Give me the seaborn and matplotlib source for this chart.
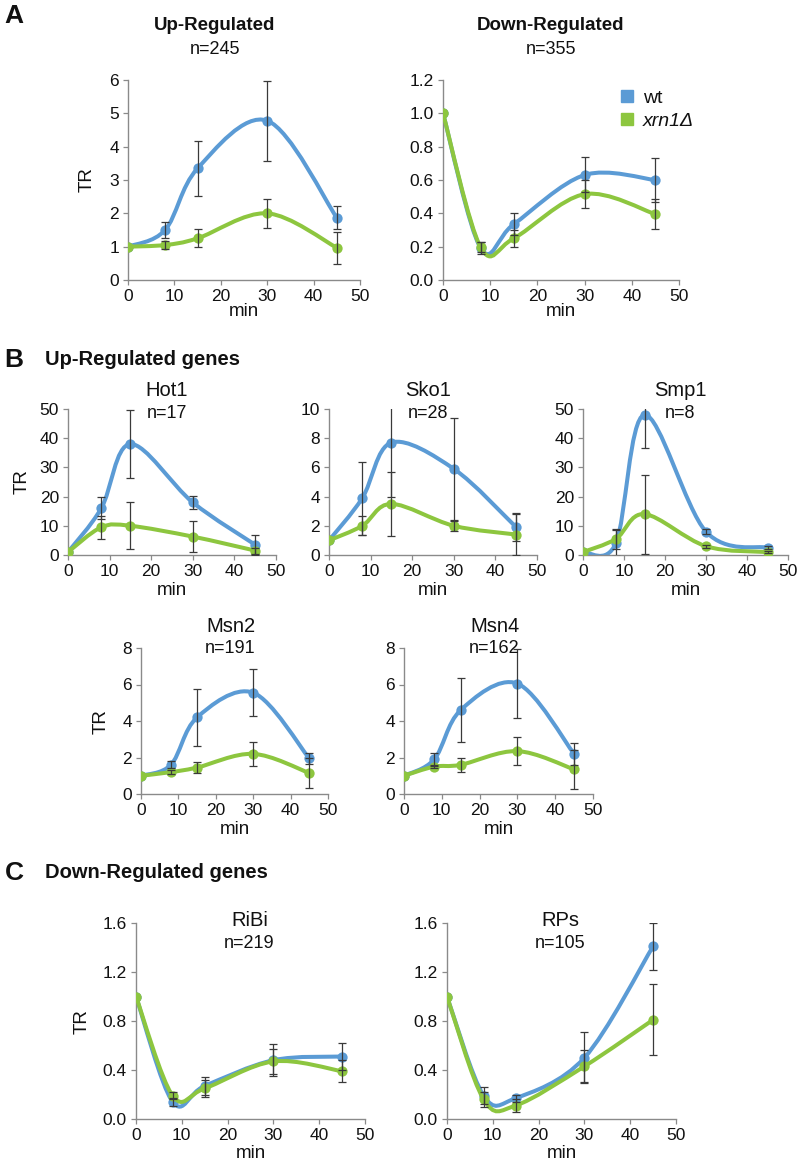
import matplotlib
matplotlib.use("Agg")
import matplotlib.pyplot as plt
from matplotlib.path import Path
from matplotlib.patches import PathPatch
from matplotlib.lines import Line2D
import numpy as np
import pandas as pd
import seaborn as sns

sns.set_style("ticks")
plt.rcParams['font.family'] = ['Liberation Sans', 'DejaVu Sans']

# time points (min)
minutes = [0, 8, 15, 30, 45]

# Panel A
up_wt = [1.0, 1.5, 3.35, 4.78, 1.87]
up_wt_err = [0, 0.23, 0.82, 1.2, 0.35]
up_xrn = [1.0, 1.05, 1.25, 2.0, 0.97]
up_xrn_err = [0, 0.13, 0.27, 0.44, 0.48]

down_wt = [1.0, 0.19, 0.335, 0.63, 0.60]
down_wt_err = [0, 0.035, 0.065, 0.105, 0.13]
down_xrn = [1.0, 0.195, 0.25, 0.515, 0.395]
down_xrn_err = [0, 0.03, 0.05, 0.085, 0.09]

# Panel B
hot1_wt = [1, 16, 38, 18, 3.5]
hot1_wt_err = [0, 3.7, 11.5, 2.3, 3.5]
hot1_xrn = [1, 9.5, 10, 6.3, 1.5]
hot1_xrn_err = [0, 4.0, 8.0, 5.3, 1.0]

sko1_wt = [1, 3.9, 7.7, 5.9, 1.9]
sko1_wt_err = [0, 2.5, 3.7, 3.5, 0.95]
sko1_xrn = [1, 2.0, 3.5, 2.0, 1.4]
sko1_xrn_err = [0, 0.65, 2.2, 0.35, 1.4]

smp1_wt = [1, 4, 48, 8, 2.5]
smp1_wt_err = [0, 4.5, 11.3, 0.8, 0.5]
smp1_xrn = [1, 5.5, 14, 3, 1]
smp1_xrn_err = [0, 3.5, 13.5, 0.5, 0.3]

msn2_wt = [1.0, 1.6, 4.2, 5.55, 1.95]
msn2_wt_err = [0, 0.2, 1.55, 1.3, 0.3]
msn2_xrn = [1.0, 1.2, 1.45, 2.2, 1.15]
msn2_xrn_err = [0, 0.1, 0.3, 0.67, 0.8]

msn4_wt = [1.0, 1.9, 4.6, 6.05, 2.2]
msn4_wt_err = [0, 0.35, 1.75, 1.9, 0.6]
msn4_xrn = [1.0, 1.5, 1.6, 2.35, 1.35]
msn4_xrn_err = [0, 0.1, 0.4, 0.75, 1.05]

# Panel C
ribi_wt = [1.0, 0.14, 0.27, 0.48, 0.51]
ribi_wt_err = [0, 0.03, 0.07, 0.13, 0.11]
ribi_xrn = [1.0, 0.19, 0.25, 0.47, 0.39]
ribi_xrn_err = [0, 0.03, 0.07, 0.1, 0.09]

rps_wt = [1.0, 0.19, 0.17, 0.50, 1.41]
rps_wt_err = [0, 0.07, 0.03, 0.21, 0.19]
rps_xrn = [1.0, 0.16, 0.11, 0.43, 0.81]
rps_xrn_err = [0, 0.06, 0.05, 0.13, 0.29]

BLUE = '#5B9BD5'
GREEN = '#8DC63F'
AXCOL = '#8a8a8a'
TXT = '#111111'

W, H = 800, 1163
fig = plt.figure(figsize=(W / 100, H / 100), dpi=100)


def px_axes(x0, x1, ytop, ybot):
    return fig.add_axes([x0 / W, 1 - ybot / H, (x1 - x0) / W, (ybot - ytop) / H])


def smooth_path(x, y):
    # Excel-style smoothed line as cubic Bezier segments (Catmull-Rom control points)
    pts = np.column_stack([x, y]).astype(float)
    n = len(pts)
    verts = [pts[0]]
    codes = [Path.MOVETO]
    for i in range(n - 1):
        p0 = pts[i - 1] if i > 0 else pts[i]
        p1 = pts[i]
        p2 = pts[i + 1]
        p3 = pts[i + 2] if i + 2 < n else pts[i + 1]
        verts += [p1 + (p2 - p0) / 6, p2 - (p3 - p1) / 6, p2]
        codes += [Path.CURVE4] * 3
    return Path(verts, codes)


def panel(ax, wt, wt_err, xrn, xrn_err, ylim, yticks, yfmt):
    for vals, errs, col, z in [(wt, wt_err, BLUE, 2), (xrn, xrn_err, GREEN, 3)]:
        ax.add_patch(PathPatch(smooth_path(minutes, vals), fill=False, edgecolor=col,
                               lw=2.9, zorder=z, capstyle='round'))
        df = pd.DataFrame({'min': minutes, 'TR': vals})
        sns.scatterplot(data=df, x='min', y='TR', ax=ax, color=col, s=55,
                        edgecolor=col, linewidth=0, zorder=z + 0.5, legend=False)
        ax.errorbar(minutes[1:], vals[1:], yerr=errs[1:], fmt='none', ecolor='#3a3a3a',
                    elinewidth=0.9, capsize=3, capthick=0.9, zorder=5)
    ax.set_xlim(0, 50)
    ax.set_ylim(*ylim)
    ax.set_xticks([0, 10, 20, 30, 40, 50])
    ax.set_yticks(yticks)
    ax.set_yticklabels([yfmt.format(v) for v in yticks])
    ax.set_xlabel('')
    ax.set_ylabel('')
    sns.despine(ax=ax)
    for s in ['left', 'bottom']:
        ax.spines[s].set_color(AXCOL)
        ax.spines[s].set_linewidth(1.0)
    ax.tick_params(length=3.5, width=0.9, color=AXCOL, labelsize=12.5,
                   labelcolor=TXT, pad=3)
    ax.patch.set_alpha(0)


def ftext(x, y, s, **kw):
    fig.text(x / W, 1 - y / H, s, color=TXT, **kw)


# ---------- Panel A ----------
axA1 = px_axes(128, 360, 80, 280)
panel(axA1, up_wt, up_wt_err, up_xrn, up_xrn_err, (0, 6), [0, 1, 2, 3, 4, 5, 6], '{:.0f}')
axA2 = px_axes(443, 679, 80, 280)
panel(axA2, down_wt, down_wt_err, down_xrn, down_xrn_err, (0, 1.2),
      [0, 0.2, 0.4, 0.6, 0.8, 1.0, 1.2], '{:.1f}')

ftext(14, 16, 'A', fontsize=19, fontweight='bold', ha='center', va='center')
ftext(215, 26, 'Up-Regulated', fontsize=13.5, fontweight='bold', ha='center', va='center')
ftext(215, 49, 'n=245', fontsize=13, ha='center', va='center')
ftext(551, 26, 'Down-Regulated', fontsize=13.5, fontweight='bold', ha='center', va='center')
ftext(551, 49, 'n=355', fontsize=13, ha='center', va='center')
ftext(87, 180, 'TR', fontsize=13.5, rotation=90, ha='center', va='center')
ftext(244, 311, 'min', fontsize=13.5, ha='center', va='center')
ftext(561, 311, 'min', fontsize=13.5, ha='center', va='center')

handles = [Line2D([0], [0], marker='s', ls='none', color=BLUE, markersize=8),
           Line2D([0], [0], marker='s', ls='none', color=GREEN, markersize=8)]
leg = axA2.legend(handles, ['wt', 'xrn1Δ'], loc='upper left',
                  bbox_to_anchor=((600 - 443) / 236, 1.04), frameon=False,
                  fontsize=14, handletextpad=0.3, labelspacing=0.25, handlelength=1.0)
leg.get_texts()[1].set_fontstyle('italic')
for t in leg.get_texts():
    t.set_color(TXT)

# ---------- Panel B ----------
ftext(14, 360, 'B', fontsize=19, fontweight='bold', ha='center', va='center')
ftext(45, 360, 'Up-Regulated genes', fontsize=14.5, fontweight='bold', ha='left', va='center')

row1 = [
    ('Hot1', 'n=17', 68, 276, hot1_wt, hot1_wt_err, hot1_xrn, hot1_xrn_err, (0, 50), [0, 10, 20, 30, 40, 50]),
    ('Sko1', 'n=28', 329, 537, sko1_wt, sko1_wt_err, sko1_xrn, sko1_xrn_err, (0, 10), [0, 2, 4, 6, 8, 10]),
    ('Smp1', 'n=8', 583, 788, smp1_wt, smp1_wt_err, smp1_xrn, smp1_xrn_err, (0, 50), [0, 10, 20, 30, 40, 50]),
]
for name, n, x0, x1, wt, we, xr, xe, yl, yt in row1:
    ax = px_axes(x0, x1, 409, 555)
    panel(ax, wt, we, xr, xe, yl, yt, '{:.0f}')
    cx = (x0 + x1) / 2 - 5
    ftext(cx, 391, name, fontsize=14.5, ha='center', va='center')
    ftext(cx, 413, n, fontsize=13, ha='center', va='center')
    ftext((x0 + x1) / 2, 591, 'min', fontsize=13.5, ha='center', va='center')
ftext(22, 482, 'TR', fontsize=13.5, rotation=90, ha='center', va='center')

row2 = [
    ('Msn2', 'n=191', 141, 328, msn2_wt, msn2_wt_err, msn2_xrn, msn2_xrn_err),
    ('Msn4', 'n=162', 404, 593, msn4_wt, msn4_wt_err, msn4_xrn, msn4_xrn_err),
]
for name, n, x0, x1, wt, we, xr, xe in row2:
    ax = px_axes(x0, x1, 648, 794)
    panel(ax, wt, we, xr, xe, (0, 8), [0, 2, 4, 6, 8], '{:.0f}')
    cx = (x0 + x1) / 2 - 4
    ftext(cx, 626, name, fontsize=14.5, ha='center', va='center')
    ftext(cx, 649, n, fontsize=13, ha='center', va='center')
    ftext((x0 + x1) / 2, 830, 'min', fontsize=13.5, ha='center', va='center')
ftext(101, 722, 'TR', fontsize=13.5, rotation=90, ha='center', va='center')

# ---------- Panel C ----------
ftext(14, 873, 'C', fontsize=19, fontweight='bold', ha='center', va='center')
ftext(45, 873, 'Down-Regulated genes', fontsize=14.5, fontweight='bold', ha='left', va='center')

row3 = [
    ('RiBi', 'n=219', 136, 365, ribi_wt, ribi_wt_err, ribi_xrn, ribi_xrn_err),
    ('RPs', 'n=105', 447, 676, rps_wt, rps_wt_err, rps_xrn, rps_xrn_err),
]
for name, n, x0, x1, wt, we, xr, xe in row3:
    ax = px_axes(x0, x1, 923, 1119)
    panel(ax, wt, we, xr, xe, (0, 1.6), [0, 0.4, 0.8, 1.2, 1.6], '{:.1f}')
    cx = (x0 + x1) / 2 - 1
    ftext(cx, 920, name, fontsize=14.5, ha='center', va='center')
    ftext(cx, 943, n, fontsize=13, ha='center', va='center')
    ftext((x0 + x1) / 2, 1154, 'min', fontsize=13.5, ha='center', va='center')
ftext(82, 1022, 'TR', fontsize=13.5, rotation=90, ha='center', va='center')

plt.savefig('out.png', dpi=100, facecolor='white')
plt.close()
